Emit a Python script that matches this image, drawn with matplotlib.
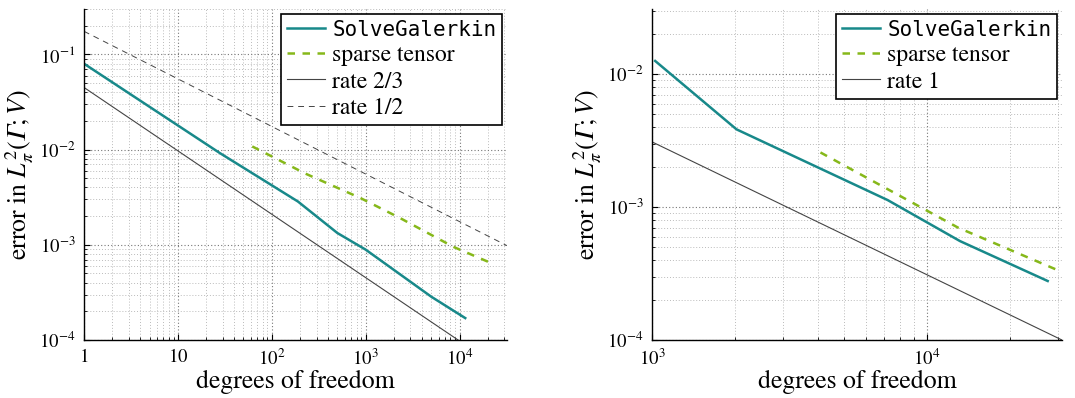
#!/usr/bin/env python3
import matplotlib
matplotlib.use('Agg')
import matplotlib.pyplot as plt
from matplotlib.ticker import LogLocator, FixedLocator, FixedFormatter, NullFormatter

plt.rcParams['font.family'] = ['STIXGeneral', 'DejaVu Serif']
plt.rcParams['mathtext.fontset'] = 'stix'

# left panel: rates 2/3 and 1/2
left_gal_dofs = [1, 28, 190, 500, 1000, 5000, 11500]
left_gal_err = [0.080, 0.0092, 0.00285, 0.00133, 8.9e-4, 2.85e-4, 1.7e-4]
left_st_dofs = [62, 228, 880, 2350, 8630, 20400]
left_st_err = [0.0108, 0.0056, 0.0031, 0.0019, 9.5e-4, 6.6e-4]
rate23_dofs = [1, 3.2e4]
rate23_err = [0.045, 4.5e-5]
rate12_dofs = [1, 3.2e4]
rate12_err = [0.175, 9.8e-4]

# right panel: rate 1
right_gal_dofs = [1027, 2030, 7200, 13200, 27500]
right_gal_err = [0.0126, 0.00385, 0.00113, 5.55e-4, 2.78e-4]
right_st_dofs = [4100, 13000, 31000]
right_st_err = [0.00258, 7.0e-4, 3.25e-4]
rate1_dofs = [1000, 3.1e4]
rate1_err = [3.1e-3, 1.0e-4]

left_xticks = [1, 10, 100, 1000, 10000]
left_xlabels = ['$1$', '$10$', '$10^{2}$', '$10^{3}$', '$10^{4}$']

teal = '#18898a'
green = '#86b81a'
grey = '#444444'
ylab = 'error in $L^2_\\pi(\U0001D6E4;V)$'
xlab = 'degrees of freedom'


def style_axes(ax):
    ax.set_xscale('log')
    ax.set_yscale('log')
    ax.spines['top'].set_visible(False)
    ax.spines['right'].set_visible(False)
    ax.spines['left'].set_linewidth(1.0)
    ax.spines['bottom'].set_linewidth(1.0)
    ax.grid(True, which='major', linestyle=(0, (1, 2)), color='#777777', linewidth=0.8)
    ax.grid(True, which='minor', linestyle=(0, (1, 2)), color='#bbbbbb', linewidth=0.7)
    ax.tick_params(which='major', direction='in', length=4, labelsize=13.5, pad=6)
    ax.tick_params(which='minor', direction='in', length=2)
    ax.set_axisbelow(True)
    ax.set_xlabel(xlab, fontsize=18.5, labelpad=1)
    ax.set_ylabel(ylab, fontsize=18.5, labelpad=2)


fig = plt.figure(figsize=(10.75, 3.98), dpi=100)
ax1 = fig.add_axes([0.0781, 0.1457, 0.3935, 0.8317])
ax2 = fig.add_axes([0.6065, 0.1457, 0.3814, 0.8317])

style_axes(ax1)
ax1.plot(left_gal_dofs, left_gal_err, color=teal, lw=1.8, label=r'SolveGalerkin')
ax1.plot(left_st_dofs, left_st_err, color=green, lw=1.8, ls=(0, (3, 3)), label='sparse tensor')
ax1.plot(rate23_dofs, rate23_err, color=grey, lw=0.8, label='rate 2/3')
ax1.plot(rate12_dofs, rate12_err, color=grey, lw=0.7, ls=(0, (6, 5)), label='rate 1/2')
ax1.set_xlim(1, 3.2e4)
ax1.set_ylim(1e-4, 0.3)
ax1.xaxis.set_major_locator(FixedLocator(left_xticks))
ax1.xaxis.set_major_formatter(FixedFormatter(left_xlabels))
ax1.xaxis.set_minor_locator(LogLocator(base=10, subs=range(2, 10)))
ax1.xaxis.set_minor_formatter(NullFormatter())

style_axes(ax2)
ax2.plot(right_gal_dofs, right_gal_err, color=teal, lw=1.8, label='SolveGalerkin')
ax2.plot(right_st_dofs, right_st_err, color=green, lw=1.8, ls=(0, (3, 3)), label='sparse tensor')
ax2.plot(rate1_dofs, rate1_err, color=grey, lw=0.8, label='rate 1')
ax2.set_xlim(1e3, 3.1e4)
ax2.set_ylim(1e-4, 3.1e-2)
ax2.xaxis.set_minor_formatter(NullFormatter())
ax2.yaxis.set_minor_formatter(NullFormatter())

for ax in (ax1, ax2):
    leg = ax.legend(loc='upper right', fontsize=17, frameon=True, fancybox=False,
                    edgecolor='black', framealpha=1, borderaxespad=0.2,
                    handlelength=1.6, handletextpad=0.3, labelspacing=0.2,
                    borderpad=0.25)
    leg.get_frame().set_linewidth(1.2)
    leg.get_texts()[0].set_fontfamily('DejaVu Sans Mono')
    leg.get_texts()[0].set_fontsize(15)

fig.savefig('out.png', dpi=100)
